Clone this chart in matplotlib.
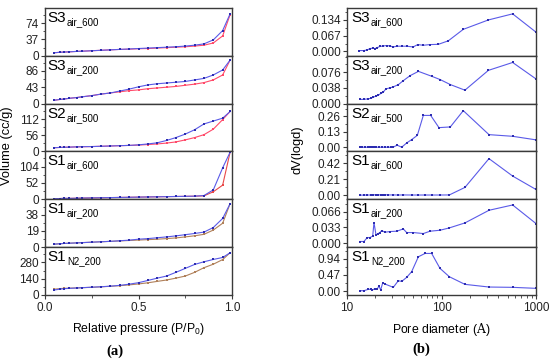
import numpy as np
import matplotlib
matplotlib.use('Agg')
import matplotlib.pyplot as plt
from matplotlib.ticker import MultipleLocator, FixedLocator, LogLocator, NullFormatter

plt.rcParams['font.family'] = 'Liberation Sans'
plt.rcParams['mathtext.default'] = 'regular'

# ---- (a) isotherms: relative pressure grid and volumes (cc/g) ----
P = [0.05, 0.08, 0.1, 0.13, 0.17, 0.2, 0.25, 0.3, 0.35, 0.4, 0.45,
     0.5, 0.55, 0.6, 0.65, 0.7, 0.75, 0.8, 0.85, 0.9, 0.95, 0.99]

names = ['S3', 'S3', 'S2', 'S1', 'S1', 'S1']
subs = ['air_600', 'air_200', 'air_500', 'air_600', 'air_200', 'N2_200']

ads = [
    [7, 8, 8.5, 9, 10, 10.5, 11.5, 12.5, 13.5, 14.5, 15, 16, 16.5, 17.5, 18.5, 19.5, 20.5, 22, 24, 29, 45, 93],
    [9, 11, 12, 14, 16, 18, 21, 25, 28, 31, 34, 36, 39, 41, 43, 45, 48, 51, 55, 62, 75, 114],
    [13, 14, 14.5, 15, 16, 16.5, 17, 18, 19, 20, 21, 22, 24, 26, 29, 33, 40, 48, 58, 77, 110, 138],
    [2, 2.5, 3, 3, 3.5, 4, 4.5, 5, 5.5, 6, 6.5, 7, 7.5, 8, 8.5, 9, 9.5, 10, 11, 24, 45, 150],
    [3.5, 4, 4.3, 4.6, 5, 5.3, 5.8, 6.3, 6.8, 7.3, 7.8, 8.3, 8.8, 9.3, 10, 10.8, 12, 13.3, 15, 20, 28, 51],
    [50, 55, 57, 59, 61, 63, 66, 70, 75, 80, 87, 95, 105, 117, 129, 145, 163, 195, 235, 265, 305, 364],
]
des = [
    [7, 8, 8.5, 9, 10, 10.5, 11.5, 12.5, 13.5, 14.5, 15.5, 16.5, 17.5, 18.5, 19.5, 20.5, 22, 24, 27, 36, 57, 95],
    [9, 11, 12, 14, 16, 18, 21, 25, 28, 33, 38, 44, 49, 52, 54, 56, 58, 62, 66, 75, 88, 114],
    [13, 14, 14.5, 15, 16, 16.5, 17, 18, 19, 20, 21, 23, 26, 30, 38, 48, 60, 75, 95, 105, 115, 138],
    [2, 2.5, 3, 3, 3.5, 4, 4.5, 5, 5.5, 6, 6.5, 7, 7.5, 8, 8.5, 9, 9.5, 10, 12, 30, 100, 150],
    [3.5, 4, 4.3, 4.6, 5, 5.3, 5.8, 6.3, 6.8, 7.5, 8.2, 9.3, 10, 11, 12, 13.2, 14.6, 16, 17.6, 23, 33.6, 51],
    [43, 50, 54, 57, 60, 63, 67, 71, 76, 83, 93, 106, 125, 145, 163, 195, 229, 263, 286, 306, 323, 364],
]
vol_ticks = [[0, 37, 74], [0, 43, 86], [0, 56, 112], [0, 52, 104], [0, 19, 38], [0, 140, 280]]
vol_top = [108, 125, 165, 152, 56, 412]
ads_color = ['#ff4a6a', '#ff4a6a', '#ff4a6a', '#e84848', '#b0805a', '#b0805a']

# ---- (b) pore size distributions: diameter (A) and dV(logd) ----
d1 = [13.5, 15.1, 16.4, 17.5, 18.7, 19.8, 20.9, 22.3, 24.2, 26.3, 28.5, 30.9, 33.6,
      37.9, 42.9, 50.2, 56, 64.1, 75.5, 92.5, 118, 170, 313, 566, 1000]
v1 = [0.0035, 0.0035, 0.0064, 0.012, 0.0135, 0.012, 0.016, 0.021, 0.023, 0.025, 0.023,
      0.019, 0.022, 0.022, 0.022, 0.019, 0.029, 0.026, 0.029, 0.030, 0.045, 0.094, 0.134, 0.160, 0.082]

d2 = [13.7, 15.1, 16.8, 17.8, 19, 20.3, 21.5, 22.8, 24.2, 25.8, 28.5, 30.9, 35, 39.5,
      46.5, 57, 79, 97, 124, 177, 313, 566, 1000]
v2 = [0.0103, 0.0103, 0.0119, 0.0127, 0.0159, 0.0183, 0.0207, 0.0247, 0.0279, 0.0359,
      0.0383, 0.0407, 0.0463, 0.0559, 0.0679, 0.0783, 0.0663, 0.0583, 0.0463, 0.0327,
      0.0807, 0.0999, 0.060]

d3 = [13.7, 14.5, 15.5, 16.5, 17.5, 18.5, 19.5, 20.5, 22, 23.5, 25, 27, 29, 31, 34,
      37.9, 42.8, 48.3, 55.5, 64.2, 76.8, 94, 124, 170, 318, 566, 1000]
v3 = [0, 0, 0, 0, 0, 0, 0, 0, 0, 0, 0, 0, 0, 0.002, 0.017, 0, 0.036, 0.064, 0.10,
      0.268, 0.268, 0.165, 0.171, 0.308, 0.106, 0.092, 0.062]

d4 = [13.7, 15.1, 16.4, 17.8, 19, 20.3, 21.4, 22.7, 23.9, 25.2, 27.4, 30.9, 34.9,
      39.4, 48.3, 56.9, 66.9, 78.7, 96.4, 121, 177, 318, 566, 1000]
v4 = [0.002, 0.002, 0.003, 0.003, 0.006, 0.004, 0.005, 0.004, 0.006, 0.006, 0.004,
      0.004, 0.003, 0.004, 0.003, 0.003, 0.003, 0.003, 0.003, 0.004, 0.102, 0.477, 0.25, 0.075]

d5 = [13.7, 15.1, 16.4, 17.5, 18.7, 19.3, 20.3, 21.4, 22.3, 23.3, 25.2, 28.5, 33.6,
      39.4, 42.8, 50.3, 64.2, 75.6, 96.4, 121, 177, 318, 566, 1000]
v5 = [0.0035, 0.0035, 0.0118, 0.0118, 0.0146, 0.043, 0.0166, 0.0201, 0.0222, 0.0263,
      0.0229, 0.0243, 0.025, 0.0298, 0.0222, 0.0222, 0.0201, 0.025, 0.027, 0.0319,
      0.0423, 0.0687, 0.0798, 0.041]

d6 = [13.7, 15.1, 16.8, 17.8, 18.5, 19.8, 20.8, 21.8, 22.7, 23.9, 25.2, 30.9, 34.9,
      37.9, 42.8, 48.3, 56.9, 66.9, 78.7, 96.4, 121, 177, 318, 566, 1000]
v6 = [0.009, 0.009, 0.049, 0.049, 0.029, 0.068, 0.05, 0.146, 0.03, 0.242, 0.204,
      0.107, 0.30, 0.28, 0.398, 0.563, 0.999, 1.096, 1.096, 0.66, 0.417, 0.194,
      0.116, 0.107, 0.078]

psd_d = [d1, d2, d3, d4, d5, d6]
psd_v = [v1, v2, v3, v4, v5, v6]
psd_ticks = [[0, 0.067, 0.134], [0, 0.038, 0.076], [0, 0.13, 0.26],
             [0, 0.21, 0.42], [0, 0.033, 0.066], [0, 0.47, 0.94]]
psd_labels = [['0.000', '0.067', '0.134'], ['0.000', '0.038', '0.076'], ['0.00', '0.13', '0.26'],
              ['0.00', '0.21', '0.42'], ['0.000', '0.033', '0.066'], ['0.00', '0.47', '0.94']]
psd_lim = [(-0.019, 0.185), (0, 0.116), (-0.036, 0.367),
           (-0.053, 0.57), (-0.0083, 0.0916), (-0.116, 1.28)]

BLUE = '#5a5ae8'
BLUE_M = '#2c2cb0'
SPINE = '#3a3a3a'

fig = plt.figure(figsize=(5.5, 3.59), dpi=100)
W, H = 550.0, 359.0
top_px, panel_px = 8, 47.83


def style_axes(ax, bottom):
    for s in ax.spines.values():
        s.set_color(SPINE)
        s.set_linewidth(1.0)
    ax.tick_params(axis='y', which='major', direction='out', length=3, width=0.8,
                   labelsize=8.5, pad=1.5, colors=SPINE, labelcolor='#222222')
    ax.tick_params(axis='y', which='minor', direction='out', length=1.8, width=0.6, colors=SPINE)
    if bottom:
        ax.tick_params(axis='x', which='major', direction='out', length=3, width=0.8,
                       labelsize=8.5, pad=2, colors=SPINE, labelcolor='#222222')
        ax.tick_params(axis='x', which='minor', direction='out', length=1.8, width=0.6, colors=SPINE)
    else:
        ax.tick_params(axis='x', which='both', bottom=False, labelbottom=False)


def panel_label(ax, i, x0):
    # main name plus a small, lowered subscript
    t = ax.text(x0, 0.94, names[i], transform=ax.transAxes, ha='left', va='top', fontsize=11)
    ax.annotate(subs[i], xy=(1.0, 0.2), xycoords=t, xytext=(0.3, 0),
                textcoords='offset points', ha='left', va='center', fontsize=7)


# left column (a)
for i in range(6):
    y0 = top_px + (i + 1) * panel_px
    ax = fig.add_axes([45 / W, 1 - y0 / H, 187 / W, panel_px / H])
    ax.plot(P, ads[i], '-s', color=ads_color[i], lw=0.8, ms=1.6, mew=0)
    ax.plot(P, des[i], '-s', color=BLUE, lw=0.8, ms=1.8, mew=0, mfc=BLUE_M)
    ax.set_xlim(0, 1.0)
    ax.set_ylim(0, vol_top[i])
    ax.yaxis.set_major_locator(FixedLocator(vol_ticks[i]))
    ax.yaxis.set_minor_locator(MultipleLocator(vol_ticks[i][1] / 2))
    ax.set_yticklabels([str(t) for t in vol_ticks[i]])
    style_axes(ax, i == 5)
    panel_label(ax, i, 0.015)
    if i == 5:
        ax.xaxis.set_major_locator(FixedLocator([0, 0.5, 1.0]))
        ax.xaxis.set_minor_locator(FixedLocator([0.25, 0.75]))
        ax.set_xticklabels(['0.0', '0.5', '1.0'])
        ax.set_xlabel('Relative pressure (P/P$_{0}$)', fontsize=8.8, labelpad=5)

fig.text(7 / W, 1 - 146 / H, 'Volume (cc/g)', rotation=90, ha='center', va='center', fontsize=9.3)

# right column (b)
for i in range(6):
    y0 = top_px + (i + 1) * panel_px
    ax = fig.add_axes([347 / W, 1 - y0 / H, 189 / W, panel_px / H])
    ax.plot(psd_d[i], psd_v[i], '-s', color=BLUE, lw=0.8, ms=1.6, mew=0, mfc=BLUE_M)
    ax.set_xscale('log')
    ax.set_xlim(10, 1000)
    ax.set_ylim(*psd_lim[i])
    ax.yaxis.set_major_locator(FixedLocator(psd_ticks[i]))
    ax.yaxis.set_minor_locator(MultipleLocator(psd_ticks[i][1] / 2))
    ax.set_yticklabels(psd_labels[i])
    style_axes(ax, i == 5)
    panel_label(ax, i, 0.025)
    if i == 5:
        ax.xaxis.set_major_locator(FixedLocator([10, 100, 1000]))
        ax.xaxis.set_minor_locator(LogLocator(base=10, subs=np.arange(2, 10)))
        ax.xaxis.set_minor_formatter(NullFormatter())
        ax.set_xticklabels(['10', '100', '1000'])
        ax.set_xlabel('Pore diameter ($\\mathrm{A}$)', fontsize=8.8, labelpad=5,
                      math_fontfamily='dejavuserif')

fig.text(297 / W, 1 - 150 / H, 'dV(logd)', rotation=90, ha='center', va='center', fontsize=9.3)

fig.text(115 / W, 1 - 351 / H, '(a)', ha='center', va='center', fontsize=10.5,
         family='Liberation Serif', weight='bold')
fig.text(421 / W, 1 - 349 / H, '(b)', ha='center', va='center', fontsize=10.5,
         family='Liberation Serif', weight='bold')

fig.savefig('out.png', dpi=100)
